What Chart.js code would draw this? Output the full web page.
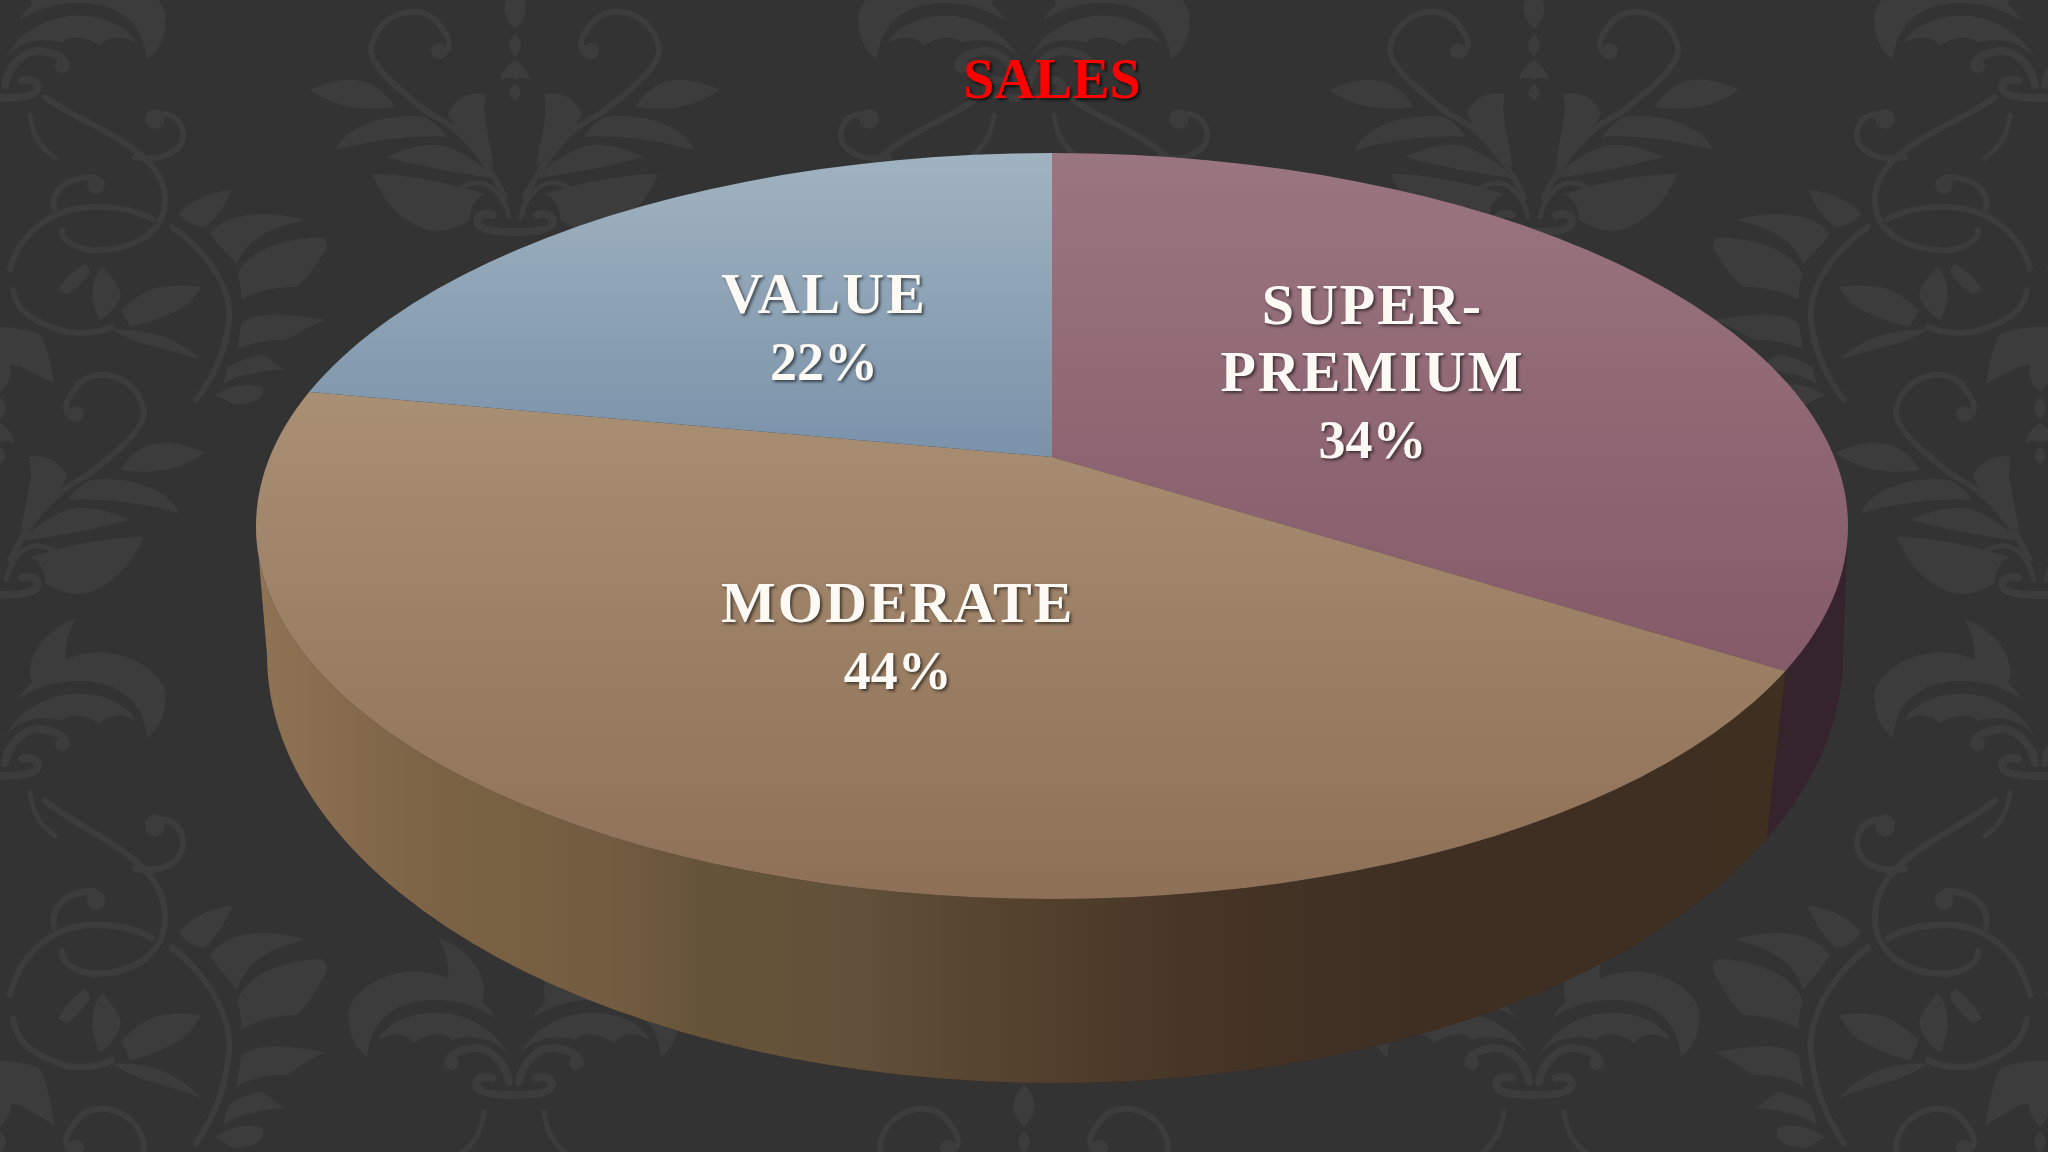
<!DOCTYPE html>
<html>
<head>
<meta charset="utf-8">
<title>Sales</title>
<script src="https://cdn.jsdelivr.net/npm/chart.js@4/dist/chart.umd.min.js"></script>
<style>
  html, body { margin: 0; padding: 0; background: #333333; overflow: hidden; }
  #wallpaper, #chart { position: absolute; left: 0; top: 0; }
  #wallpaper .st { fill: none; stroke: #3c3c3c; stroke-linecap: round; }
</style>
</head>
<body>
<svg id="wallpaper" width="2048" height="1152" xmlns="http://www.w3.org/2000/svg">
  <defs>
    <g id="fleurHalf">
      <path class="st" stroke-width="6" d="M10,-30 C30,-70 55,-100 85,-113 C120,-140 150,-165 143,-183 C135,-215 95,-225 78,-205 C65,-190 62,-180 72,-172"/>
      <circle cx="76" cy="-176" r="8"/>
      <path d="M120,-120 C140,-150 165,-155 205,-137 C180,-120 155,-115 120,-120Z"/>
      <path d="M179,-77 C170,-100 130,-115 90,-110 C78,-104 72,-96 68,-90 C105,-92 140,-87 179,-77Z"/>
      <path d="M129,-70 C105,-82 80,-85 67,-80 C45,-72 30,-58 18,-48 C50,-53 85,-58 129,-70Z"/>
      <path d="M29,-133 C45,-136 60,-130 67,-113 C55,-90 40,-75 22,-60 C22,-80 35,-110 29,-133Z"/>
      <path d="M30,-33 C70,-46 110,-53 143,-53 C135,-33 120,-10 95,0 C80,8 60,3 45,-7 C45,-20 40,-28 30,-33Z"/>
      <path d="M0,-193 C6,-187 9,-181 0,-170Z"/>
      <path d="M0,-167 C8,-162 16,-152 14,-147 C8,-150 4,-150 0,-147Z"/>
      <path d="M0,-143 C7,-137 8,-133 0,-126Z"/>
      <path d="M0,-240 C14,-225 14,-210 0,-198Z"/>
      <path class="st" stroke-width="5" d="M6,-10 C10,-30 25,-46 40,-44 C55,-42 60,-34 62,-26"/>
      <path class="st" stroke-width="8" d="M0,5 C25,5 38,2 38,-6 C38,-13 28,-14 22,-12"/>
    </g>
    <g id="curlHalf">
      <path d="M18,-72 C40,-105 80,-125 116,-117 C150,-110 170,-85 165,-70 C165,-50 155,-40 147,-33 C145,-55 135,-75 110,-85 C80,-95 45,-90 18,-72Z"/>
      <path d="M5,-34 C20,-65 60,-85 100,-75 C125,-68 135,-55 135,-50 C120,-60 105,-55 100,-47 C90,-55 70,-60 62,-50 C50,-55 20,-55 5,-34Z"/>
      <path d="M76,-153 C50,-142 28,-122 30,-95 L34,-80 C45,-87 60,-92 70,-94 C62,-115 66,-135 76,-153Z"/>
      <path class="st" stroke-width="8" d="M5,-8 C8,-28 25,-43 40,-42 C55,-40 66,-35 66,-26"/>
      <circle cx="62" cy="-27" r="7"/>
      <path class="st" stroke-width="8" d="M0,5 C25,5 38,2 38,-6 C38,-13 28,-14 22,-12"/>
      <path class="st" stroke-width="5" d="M30,22 C32,40 40,55 55,65"/>
    </g>
    <g id="vineHalf">
      <path class="st" stroke-width="6" d="M45,-180 C85,-150 165,-130 165,-77 C165,-40 125,-25 90,-27 C70,-30 60,-40 62,-47"/>
      <path class="st" stroke-width="6" d="M135,-120 C160,-115 185,-125 183,-145 C180,-165 155,-168 152,-155"/>
      <circle cx="155" cy="-158" r="10"/>
      <path class="st" stroke-width="6" d="M10,-8 C20,-45 55,-72 98,-70 C120,-70 140,-65 152,-58"/>
      <path class="st" stroke-width="6" d="M54,-68 C50,-85 65,-100 94,-100"/>
      <circle cx="96" cy="-92" r="9"/>
      <path class="st" stroke-width="6" d="M172,-50 C215,-20 235,20 228,50 C224,80 210,105 196,123"/>
      <path class="st" stroke-width="6" d="M13,13 C16,30 25,43 67,55 C85,57 100,55 112,50"/>
      <path d="M179,-63 C185,-72 205,-85 232,-87 C225,-70 215,-58 205,-50 C195,-50 185,-55 179,-63Z"/>
      <path d="M210,-43 C220,-60 260,-70 304,-57 C280,-50 250,-45 237,-13 C230,-20 220,-30 210,-43Z"/>
      <path d="M237,-3 C245,-20 268,-37 321,-40 C328,-36 328,-30 326,-27 C315,-10 305,5 295,10 C275,10 255,15 241,23 C242,15 240,5 237,-3Z"/>
      <path d="M241,47 C250,38 268,33 326,43 C305,50 295,60 286,63 C265,62 245,68 237,73Z"/>
      <path d="M228,90 C240,82 259,77 263,78 C270,82 280,90 286,93 C270,92 260,95 250,97 C240,98 230,103 223,107Z"/>
      <path d="M215,118 C230,108 250,105 263,110 C265,120 260,125 235,128Z"/>
      <path d="M58,13 C65,0 78,-10 85,-13 C92,-8 90,-3 89,-3 C80,8 72,15 67,17Z"/>
      <path d="M94,3 C97,-3 100,-8 103,-10 C112,0 120,10 121,17 C118,28 110,38 100,43 C92,30 90,15 94,3Z"/>
      <path d="M121,33 C135,20 148,12 161,10 C175,8 190,8 201,10 C195,20 188,28 179,33 C160,42 145,47 130,50 C127,45 124,38 121,33Z"/>
      <path d="M112,53 C125,52 140,53 156,57 C175,63 190,72 201,83 C185,78 170,73 156,70 C140,67 125,60 112,53Z"/>
      <path d="M0,50 C15,50 30,53 40,57 C48,72 52,90 54,107 C42,100 30,95 22,90 C12,88 5,88 0,90Z"/>
    </g>
    <g id="fleur"><use href="#fleurHalf"/><use href="#fleurHalf" transform="scale(-1,1)"/></g>
    <g id="curl"><use href="#curlHalf"/><use href="#curlHalf" transform="scale(-1,1)"/></g>
    <g id="vine"><use href="#vineHalf"/><use href="#vineHalf" transform="scale(-1,1)"/></g>
  </defs>
  <rect width="2048" height="1152" fill="#333333"/>
  <g fill="#3c3c3c">
    <use href="#curl" transform="translate(0,93)"/>
    <use href="#curl" transform="translate(1024,93)"/>
    <use href="#curl" transform="translate(2040,93)"/>
    <use href="#curl" transform="translate(0,771)"/>
    <use href="#curl" transform="translate(2040,771)"/>
    <use href="#curl" transform="translate(514,1090)"/>
    <use href="#curl" transform="translate(1534,1090)"/>
    <use href="#fleur" transform="translate(515,227)"/>
    <use href="#fleur" transform="translate(1534,227)"/>
    <use href="#fleur" transform="translate(0,590)"/>
    <use href="#fleur" transform="translate(2040,590)"/>
    <use href="#fleur" transform="translate(0,1324)"/>
    <use href="#fleur" transform="translate(1024,1324)"/>
    <use href="#fleur" transform="translate(2040,1324)"/>
    <use href="#vine" transform="translate(0,277)"/>
    <use href="#vine" transform="translate(1024,277)"/>
    <use href="#vine" transform="translate(2040,277)"/>
    <use href="#vine" transform="translate(0,1004) scale(1,1.13)"/>
    <use href="#vine" transform="translate(2040,1004) scale(1,1.13)"/>
  </g>
</svg>
<canvas id="chart" width="2048" height="1152"></canvas>
<script>
  const categories = ["SUPER-PREMIUM", "MODERATE", "VALUE"];
  const sharePercent = [34, 44, 22];
  const chartTitle = "SALES";

  // top face gradients: [color at top, color at bottom]
  const faceColors = [["#9a7680", "#855a69"], ["#a98f74", "#8e7056"], ["#a0b3c0", "#7a92aa"]];
  const faceRange = [[153, 672], [390, 899], [153, 457]];

  // where the pie tip sits and how the tilted disc looks on screen
  const tip = { x: 1052, y: 457 };
  const tilt = 0.46;
  const topFace = { x: 1052, y: 526, rx: 796, ry: 373 };
  const lowFace = { x: 1055, y: 655, rx: 788, ry: 428 };
  const labelDist = [370, 419, 363];
  const labelNudge = [-1.2, 0, 0.7];

  function pieScale(chart) {
    const a = chart.chartArea;
    return 2000 / (Math.min(a.right - a.left, a.bottom - a.top) / 2);
  }

  function faceGradient(context) {
    const chart = context.chart;
    const a = chart.chartArea;
    const i = context.dataIndex;
    if (!a) return faceColors[i][0];
    const k = pieScale(chart);
    const cy = (a.top + a.bottom) / 2;
    const toPie = (y) => cy + (y - tip.y) / (k * tilt);
    const g = chart.ctx.createLinearGradient(0, toPie(faceRange[i][0]), 0, toPie(faceRange[i][1]));
    g.addColorStop(0, faceColors[i][0]);
    g.addColorStop(1, faceColors[i][1]);
    return g;
  }

  // ray from the tip to the rim of the top face
  function rimPoint(angle) {
    const dx = Math.cos(angle), dy = tilt * Math.sin(angle);
    const ox = tip.x - topFace.x, oy = tip.y - topFace.y;
    const A = dx * dx / topFace.rx ** 2 + dy * dy / topFace.ry ** 2;
    const B = 2 * (ox * dx / topFace.rx ** 2 + oy * dy / topFace.ry ** 2);
    const C = ox * ox / topFace.rx ** 2 + oy * oy / topFace.ry ** 2 - 1;
    const t = (-B + Math.sqrt(B * B - 4 * A * C)) / (2 * A);
    return { x: tip.x + t * dx, y: tip.y + t * dy };
  }

  function wallPath(ctx) {
    ctx.beginPath();
    ctx.moveTo(topFace.x - topFace.rx, topFace.y);
    ctx.lineTo(lowFace.x - lowFace.rx, lowFace.y);
    ctx.ellipse(lowFace.x, lowFace.y, lowFace.rx, lowFace.ry, 0, Math.PI, 0, true);
    ctx.lineTo(topFace.x + topFace.rx, topFace.y);
    ctx.ellipse(topFace.x, topFace.y, topFace.rx, topFace.ry, 0, 0, Math.PI, false);
    ctx.closePath();
  }

  function drawWall(chart) {
    const ctx = chart.ctx;
    const seamAngle = chart.getDatasetMeta(0).data[0].endAngle;
    const top = rimPoint(seamAngle);
    const c = (top.x - topFace.x) / topFace.rx * 0.98;
    const low = {
      x: lowFace.x + lowFace.rx * c,
      y: lowFace.y + lowFace.ry * Math.sqrt(1 - c * c)
    };

    ctx.save();
    wallPath(ctx);
    ctx.clip();
    ctx.fillStyle = "#35242b";
    ctx.fillRect(0, 0, 2048, 1152);

    ctx.beginPath();
    ctx.moveTo(0, 0);
    ctx.lineTo(top.x, 0);
    ctx.lineTo(top.x, top.y);
    ctx.lineTo(low.x, low.y);
    ctx.lineTo(low.x, 1152);
    ctx.lineTo(0, 1152);
    ctx.closePath();
    const g = ctx.createLinearGradient(255, 0, 1785, 0);
    g.addColorStop(0, "#8f7354");
    g.addColorStop(0.117, "#7c6345");
    g.addColorStop(0.233, "#735c40");
    g.addColorStop(0.29, "#665439");
    g.addColorStop(0.39, "#62503a");
    g.addColorStop(0.487, "#56432f");
    g.addColorStop(0.617, "#463526");
    g.addColorStop(0.75, "#3f2f23");
    g.addColorStop(1, "#3e2f21");
    ctx.fillStyle = g;
    ctx.fill();
    ctx.restore();
  }

  const tiltedDisc = {
    id: "tiltedDisc",
    beforeDraw(chart) {
      const ctx = chart.ctx;
      ctx.save();
      ctx.shadowColor = "rgba(0,0,0,0.75)";
      ctx.shadowBlur = 3;
      ctx.shadowOffsetX = 2;
      ctx.shadowOffsetY = 2;
    },
    beforeDatasetsDraw(chart) {
      const ctx = chart.ctx;
      const a = chart.chartArea;
      ctx.restore(); // title shadow ends here
      drawWall(chart);
      const k = pieScale(chart);
      ctx.save();
      ctx.beginPath();
      ctx.ellipse(topFace.x, topFace.y, topFace.rx, topFace.ry, 0, 0, Math.PI * 2);
      ctx.clip();
      ctx.translate(tip.x, tip.y);
      ctx.scale(k, k * tilt);
      ctx.translate(-(a.left + a.right) / 2, -(a.top + a.bottom) / 2);
    },
    afterDatasetsDraw(chart) {
      const ctx = chart.ctx;
      ctx.restore();

      ctx.save();
      ctx.textAlign = "center";
      ctx.textBaseline = "alphabetic";
      ctx.fillStyle = "#fdfaf6";
      ctx.shadowColor = "rgba(0,0,0,0.55)";
      ctx.shadowBlur = 3;
      ctx.shadowOffsetX = 2;
      ctx.shadowOffsetY = 2;
      chart.getDatasetMeta(0).data.forEach((arc, i) => {
        const mid = (arc.startAngle + arc.endAngle) / 2 + labelNudge[i] * Math.PI / 180;
        const x = tip.x + labelDist[i] * Math.cos(mid);
        const y = tip.y + tilt * labelDist[i] * Math.sin(mid);
        const name = categories[i].replace("-", "-\n").split("\n");
        const first = y + 19 - name.length * 67 / 2;
        ctx.font = "bold 58px 'Liberation Serif'";
        ctx.letterSpacing = "2px";
        name.forEach((line, n) => ctx.fillText(line, x, first + n * 67));
        ctx.font = "bold 54px 'Liberation Serif'";
        ctx.letterSpacing = "0px";
        ctx.fillText(sharePercent[i] + "%", x, first + name.length * 67);
      });
      ctx.restore();
    }
  };

  new Chart(document.getElementById("chart"), {
    type: "pie",
    data: {
      labels: categories,
      datasets: [{
        data: sharePercent,
        backgroundColor: faceGradient,
        borderWidth: 0
      }]
    },
    plugins: [tiltedDisc],
    options: {
      responsive: false,
      animation: false,
      devicePixelRatio: 1,
      events: [],
      layout: { padding: { left: 56 } },
      plugins: {
        legend: { display: false },
        tooltip: { enabled: false },
        title: {
          display: true,
          text: chartTitle,
          color: "#ff0000",
          font: { family: "'Liberation Serif'", size: 56, weight: "bold" },
          padding: { top: 50, bottom: 0 }
        }
      }
    }
  });
</script>
</body>
</html>
